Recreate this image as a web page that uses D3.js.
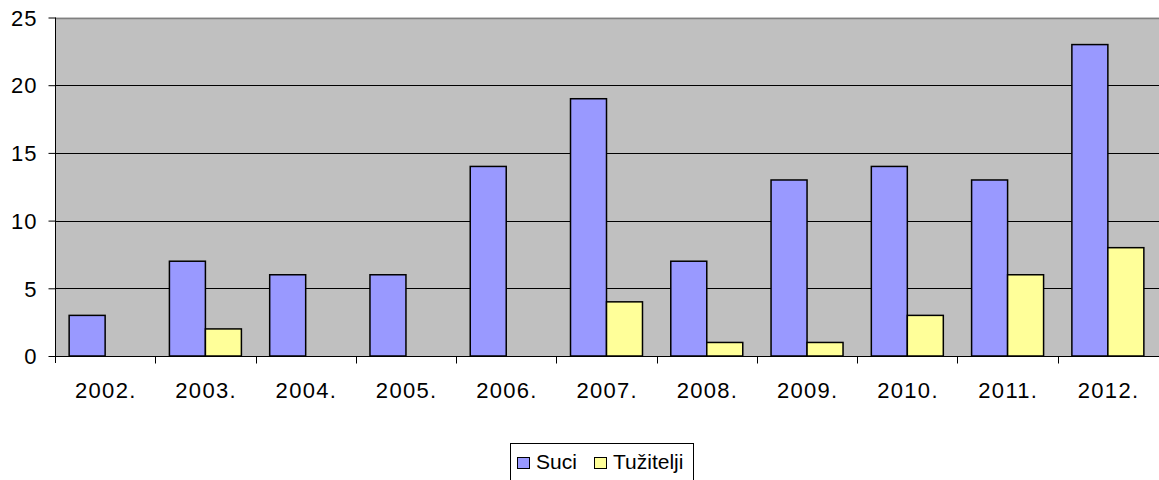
<!DOCTYPE html>
<html><head><meta charset="utf-8">
<script src="https://cdn.jsdelivr.net/npm/d3@7"></script>
<style>body{margin:0;background:#fff}svg{display:block;font-family:"Liberation Sans",Arial,sans-serif}</style>
</head><body>
<svg id="c" width="1159" height="480"></svg>
<script>
const categories = ["2002.","2003.","2004.","2005.","2006.","2007.","2008.","2009.","2010.","2011.","2012."];
const suci = [3,7,6,6,14,19,7,13,14,13,23];
const tuzitelji = [0,2,0,0,0,4,1,1,3,6,8];
const seriesNames = ["Suci","Tužitelji"];
const seriesColors = ["#9999FF","#FFFF99"];
const yTicks = [0,5,10,15,20,25];

const svg = d3.select("#c");
const L = 55, R = 1158, T = 17.5, B = 356;
const x = d3.scaleBand().domain(categories).range([L, R]).paddingInner(0).paddingOuter(0);
const y = d3.scaleLinear().domain([0,25]).range([B, T]);
const inner = d3.scaleBand().domain(seriesNames).range([0, x.bandwidth()]).paddingInner(0).paddingOuter(0.393);

svg.append("rect").attr("x", L).attr("y", T).attr("width", R - L + 1).attr("height", B - T).attr("fill", "#C0C0C0");
// gridlines
svg.append("g").selectAll("line").data(yTicks.filter(d => d > 0)).join("line")
  .attr("x1", L).attr("x2", R + 1)
  .attr("y1", d => Math.round(y(d)) + 0.5).attr("y2", d => Math.round(y(d)) + 0.5)
  .attr("stroke", d => d === 25 ? "#808080" : "#000").attr("stroke-width", d => d === 25 ? 1.5 : 1);

const data = [suci, tuzitelji];
data.forEach((vals, si) => {
  svg.append("g").selectAll("rect").data(vals.map((v, i) => ({v, c: categories[i]})).filter(d => d.v > 0)).join("rect")
    .attr("x", d => x(d.c) + inner(seriesNames[si]))
    .attr("y", d => y(d.v))
    .attr("width", inner.bandwidth())
    .attr("height", d => y(0) - y(d.v))
    .attr("fill", seriesColors[si]).attr("stroke", "#000").attr("stroke-width", 1.5);
});

// y axis
const ya = svg.append("g").attr("transform", `translate(${L + 0.5},0)`)
  .call(d3.axisLeft(y).tickValues(yTicks).tickSize(7).tickPadding(11).tickFormat(d3.format("d")));
ya.select(".domain").remove();
ya.append("line").attr("x1", 0).attr("x2", 0).attr("y1", T).attr("y2", B + 7).attr("stroke", "#000");
ya.selectAll("text").attr("font-size", 22).attr("fill", "#000").attr("font-family", '"Liberation Sans",Arial,sans-serif').attr("dy", "0.35em").attr("letter-spacing", 1);
ya.selectAll(".tick line").attr("stroke", "#000");

// x axis
const xa = svg.append("g").attr("transform", `translate(0,${B + 0.5})`);
xa.append("line").attr("x1", L).attr("x2", R + 1).attr("y1", 0).attr("y2", 0).attr("stroke", "#000");
const bounds = categories.map(c => x(c)).concat([R]);
xa.selectAll("line.t").data(bounds.slice(1, -1)).join("line").attr("class", "t")
  .attr("x1", d => Math.round(d) + 0.5).attr("x2", d => Math.round(d) + 0.5).attr("y1", 0).attr("y2", 7).attr("stroke", "#000");
xa.selectAll("text").data(categories).join("text")
  .attr("x", d => x(d) + x.bandwidth() / 2 + 0.7).attr("y", 41)
  .attr("text-anchor", "middle").attr("font-size", 22).attr("letter-spacing", 1.3).attr("fill", "#000").text(d => d);

// legend
const lg = svg.append("g");
lg.append("rect").attr("x", 510.5).attr("y", 443.5).attr("width", 183).attr("height", 40).attr("fill", "#fff").attr("stroke", "#000");
const items = [{n: seriesNames[0], c: seriesColors[0], x: 517}, {n: seriesNames[1], c: seriesColors[1], x: 594}];
items.forEach(it => {
  lg.append("rect").attr("x", it.x + 0.5).attr("y", 457.5).attr("width", 12).attr("height", 11).attr("fill", it.c).attr("stroke", "#000");
  lg.append("text").attr("x", it.x + 19).attr("y", 469).attr("font-size", 21).attr("fill", "#000").text(it.n);
});
</script>
</body></html>
